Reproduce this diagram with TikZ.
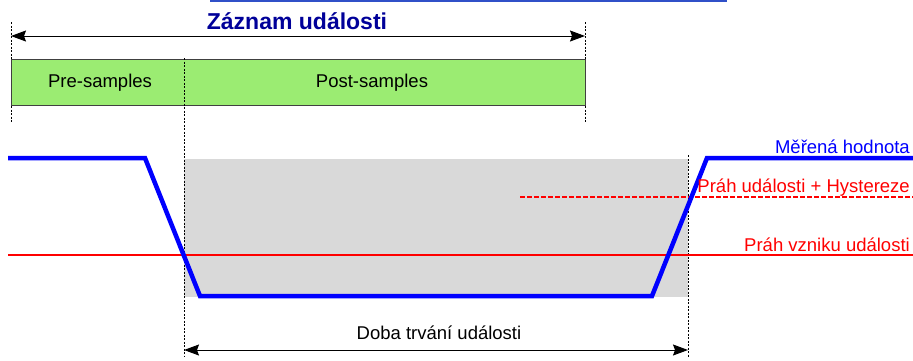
\documentclass[tikz,border=0pt]{standalone}
\usepackage{fontspec}
\setmainfont{Liberation Sans}
\usetikzlibrary{arrows.meta}
\definecolor{titleblue}{HTML}{000099}
\definecolor{framegreen}{HTML}{9BEC72}
\definecolor{areagray}{HTML}{D9D9D9}
\definecolor{signalblue}{HTML}{0000FF}
\definecolor{limitred}{HTML}{FF0000}
\definecolor{edgeblue}{HTML}{3050C8}
\tikzset{
  marker/.style={draw=black, line width=0.9pt, dash pattern=on 2pt off 1.5pt},
  span/.style={draw, line width=1pt, {Stealth[length=15pt,width=11pt,inset=2pt]}-{Stealth[length=15pt,width=11pt,inset=2pt]}},
  caption/.style={inner sep=0pt, font=\fontsize{18.5}{21}\selectfont},
}
\begin{document}
\begin{tikzpicture}[x=1pt,y=-1pt]
\useasboundingbox (0,0) rectangle (913,360);
% edge of the box above
\draw[edgeblue, line width=1.8pt] (210,0.9) -- (727,0.9);
% gray event area
\fill[areagray] (184,159) rectangle (688,297);
% record frame
\coordinate (ra) at (11,22);
\coordinate (rb) at (585,22);
\coordinate (ra2) at (11,122);
\coordinate (rb2) at (585,122);
\path[marker] (ra) -- (ra2);
\path[marker] (rb) -- (rb2);
\node[draw=black!75, fill=framegreen, line width=1pt, minimum width=574pt, minimum height=46pt, anchor=north west, inner sep=0pt] (frame) at (11,59) {};
\node[caption] (pre) at (100,83) {Pre-samples};
\node[caption] (post) at (372,83) {Post-samples};
\coordinate (sa) at (11,36);
\coordinate (sb) at (585,36);
\path[span] (sa) -- (sb);
\node[caption, font=\bfseries\fontsize{23}{26}\selectfont, text=titleblue] (title) at (297,21) {Záznam události};
% event start and end
\coordinate (ea) at (184,58);
\coordinate (ea2) at (184,357);
\coordinate (eb) at (688,155);
\coordinate (eb2) at (688,357);
\path[marker] (ea) -- (ea2);
\path[marker] (eb) -- (eb2);
% thresholds
\coordinate (t1) at (8,255);
\coordinate (t2) at (913,255);
\path[draw=limitred, line width=2pt] (t1) -- (t2);
\coordinate (h1) at (520,197);
\coordinate (h2) at (913,197);
\path[draw=limitred, line width=1.1pt, dash pattern=on 5pt off 2pt] (h1) -- (h2);
% measured value
\coordinate (m0) at (8,158);
\coordinate (m1) at (145,158);
\coordinate (m2) at (200,296);
\coordinate (m3) at (652,296);
\coordinate (m4) at (707,158);
\coordinate (m5) at (913,158);
\path[draw=signalblue, line width=4.5pt] (m0) -- (m1) -- (m2) -- (m3) -- (m4) -- (m5);
\node[caption, anchor=base east, text=signalblue] (value) at (910,153) {Měřená hodnota};
\node[caption, anchor=base east, text=limitred] (hyst) at (910,192) {Práh události + Hystereze};
\node[caption, anchor=base east, text=limitred] (limit) at (910,251) {Práh vzniku události};
% event duration
\coordinate (da) at (184,350);
\coordinate (db) at (688,350);
\path[span] (da) -- (db);
\node[caption] (dur) at (439,333) {Doba trvání události};
\end{tikzpicture}
\end{document}
